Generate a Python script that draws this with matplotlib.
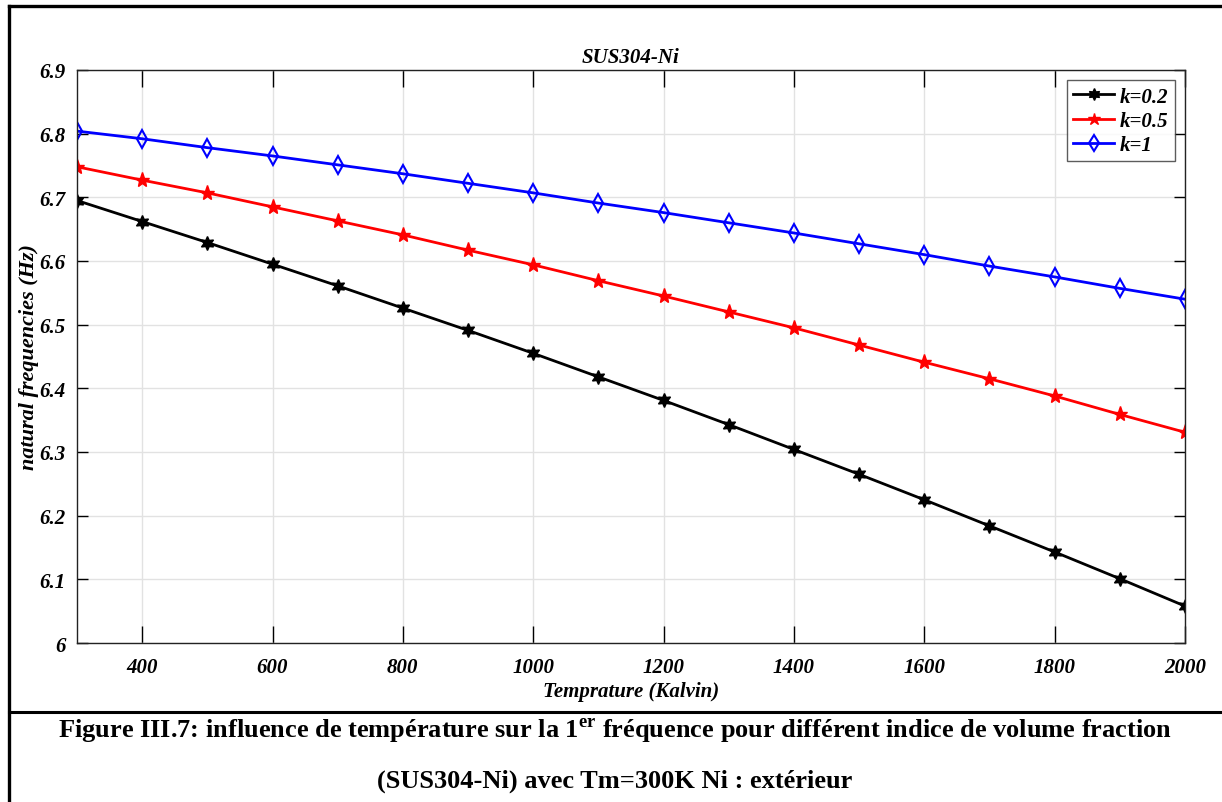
import numpy as np
import matplotlib
matplotlib.use("Agg")
import matplotlib.pyplot as plt
from matplotlib.lines import Line2D

# Data
temperature = [300, 400, 500, 600, 700, 800, 900, 1000, 1100, 1200,
               1300, 1400, 1500, 1600, 1700, 1800, 1900, 2000]
freq_k02 = [6.695, 6.662, 6.629, 6.595, 6.561, 6.526, 6.491, 6.455, 6.418,
            6.381, 6.343, 6.304, 6.265, 6.225, 6.184, 6.143, 6.101, 6.058]
freq_k05 = [6.748, 6.727, 6.707, 6.685, 6.663, 6.641, 6.617, 6.594, 6.569,
            6.545, 6.520, 6.495, 6.468, 6.441, 6.415, 6.388, 6.359, 6.331]
freq_k1 = [6.804, 6.792, 6.778, 6.765, 6.751, 6.737, 6.722, 6.707, 6.691,
           6.676, 6.660, 6.644, 6.627, 6.610, 6.592, 6.575, 6.557, 6.540]
labels = ["k=0.2", "k=0.5", "k=1"]

xticks = [400, 600, 800, 1000, 1200, 1400, 1600, 1800, 2000]
yticks = [6.0, 6.1, 6.2, 6.3, 6.4, 6.5, 6.6, 6.7, 6.8, 6.9]
ytick_labels = ["6", "6.1", "6.2", "6.3", "6.4", "6.5", "6.6", "6.7", "6.8", "6.9"]

plt.rcParams["font.family"] = ["Liberation Serif", "DejaVu Serif"]
plt.rcParams["mathtext.fontset"] = "custom"
plt.rcParams["mathtext.rm"] = "Liberation Serif:bold"

fig = plt.figure(figsize=(12.22, 8.03), dpi=100)
ax = fig.add_axes([0.063, 0.198, 0.9067, 0.7136])

ax.plot(temperature, freq_k02, color="black", lw=2.0, marker=(6, 1, 0),
        ms=10, label=labels[0])
ax.plot(temperature, freq_k05, color="red", lw=2.0, marker="*",
        ms=11, label=labels[1])
ax.plot(temperature, freq_k1, color="blue", lw=2.0, marker="d",
        ms=9, mfc="none", mew=1.5, label=labels[2])

ax.set_xlim(300, 2000)
ax.set_ylim(6.0, 6.9)
ax.set_xticks(xticks)
ax.set_yticks(yticks)
ax.set_yticklabels(ytick_labels)
ax.grid(True, color="#e2e2e2", lw=1.0)
ax.set_axisbelow(True)

ax.tick_params(axis="x", direction="in", length=12, width=1, top=True,
               pad=10, labelsize=15)
ax.tick_params(axis="y", direction="in", length=8, width=1, right=True,
               pad=8, labelsize=15)
for lab in ax.get_xticklabels() + ax.get_yticklabels():
    lab.set_fontstyle("italic")
    lab.set_fontweight("bold")
for sp in ax.spines.values():
    sp.set_linewidth(1.0)
    sp.set_color("#222222")

ax.set_title("SUS304-Ni", fontsize=15, fontstyle="italic", fontweight="bold", pad=6)
ax.set_xlabel("Temprature (Kalvin)", fontsize=15, fontstyle="italic",
              fontweight="bold", labelpad=3)
ax.set_ylabel("natural frequencies (Hz)", fontsize=16, fontstyle="italic",
              fontweight="bold")
ax.yaxis.set_label_coords(-0.0343, 0.5)

leg = ax.legend(loc="upper right", fontsize=15, frameon=True, fancybox=False,
                edgecolor="#333333", handlelength=2.0, handletextpad=0.25,
                borderpad=0.3, labelspacing=0.2, borderaxespad=0.5,
                markerscale=0.85)
leg.get_frame().set_linewidth(1.0)
for t in leg.get_texts():
    t.set_fontstyle("italic")
    t.set_fontweight("bold")

# page frame and caption
fig.add_artist(Line2D([0.0074, 1.0], [0.9913, 0.9913], color="black", lw=2.4))
fig.add_artist(Line2D([0.0074, 0.0074], [0.0, 0.9913], color="black", lw=2.4))
fig.add_artist(Line2D([0.0074, 1.0], [0.1121, 0.1121], color="black", lw=2.2))

fig.text(0.503, 0.089,
         "Figure III.7: influence de température sur la 1$^{\\mathrm{er}}$ fréquence pour différent indice de volume fraction",
         ha="center", va="center", fontsize=19, fontweight="bold")
fig.text(0.503, 0.027, "(SUS304-Ni) avec Tm=300K Ni : extérieur",
         ha="center", va="center", fontsize=19, fontweight="bold")

fig.savefig("out.png", dpi=100)
